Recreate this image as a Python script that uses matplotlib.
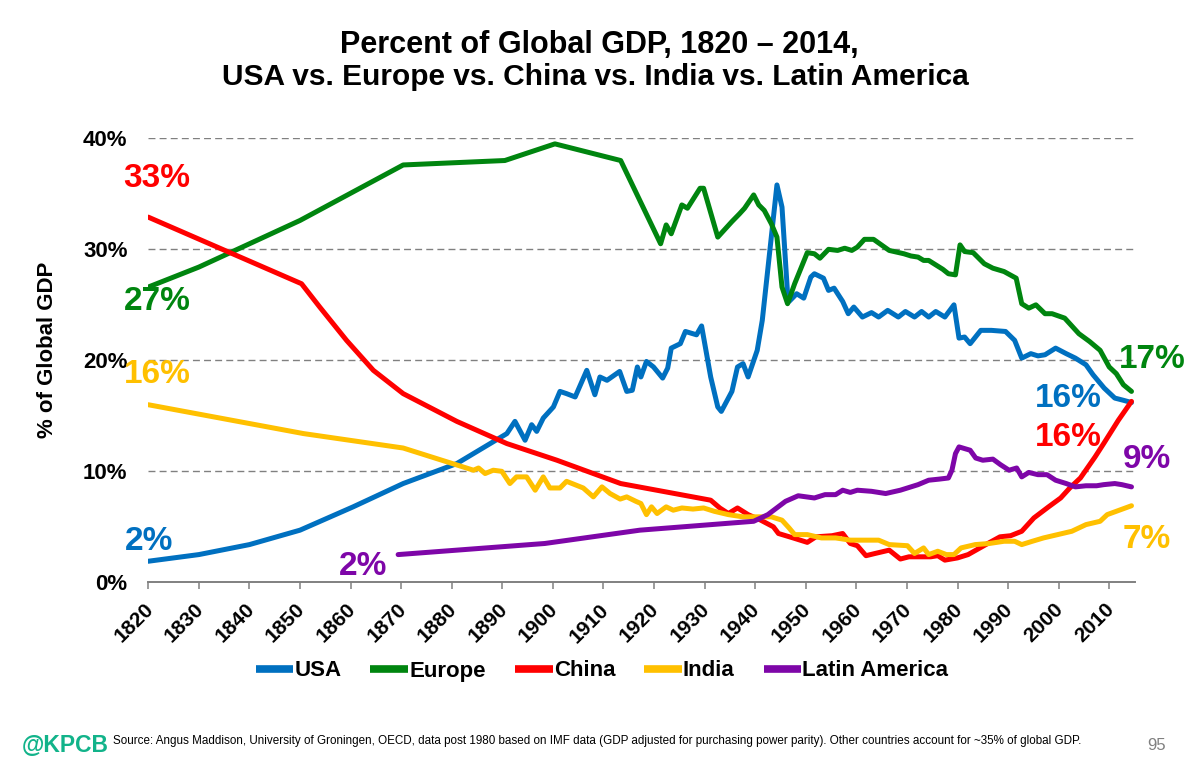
import matplotlib
matplotlib.use("Agg")
import matplotlib.pyplot as plt
import matplotlib.transforms as mtransforms

plt.rcParams["font.family"] = ["Liberation Sans", "DejaVu Sans"]

# values (% of global GDP)
usa_year = [1820, 1830, 1840, 1850, 1860.5, 1870.4, 1881, 1890.9,
            1892.5, 1894.5, 1895.8, 1896.8, 1898.1, 1900.1,
            1901.4, 1902.7, 1904.4, 1906.7, 1908.3, 1909.3,
            1910.7, 1913.2, 1914.6, 1915.7, 1916.7, 1917.4,
            1918.5, 1919.9, 1921.7, 1922.7, 1923.4, 1925.2,
            1926.2, 1928.4, 1929.4, 1931.2, 1932.6, 1933.3,
            1935.4, 1936.5, 1937.6, 1938.6, 1940.4, 1941.4,
            1942.9, 1944.3, 1945.3, 1946.4, 1946.7, 1948.2,
            1949.6, 1951.0, 1951.7, 1953.5, 1954.5, 1955.6,
            1957.3, 1958.4, 1959.5, 1961.2, 1963.0, 1964.4,
            1966.2, 1968.3, 1969.7, 1971.5, 1972.9, 1974.3,
            1975.7, 1977.5, 1979.3, 1980.3, 1981.4, 1982.5,
            1984.6, 1986.7, 1989.5, 1991.3, 1992.7, 1994.5,
            1995.9, 1997.3, 1999.4, 2001.5, 2003.3, 2005.4,
            2006.8, 2009.0, 2011.1, 2012.8, 2014.4]
usa_val = [1.9, 2.5, 3.4, 4.7, 6.8, 8.9, 10.7, 13.4,
           14.5, 12.8, 14.2, 13.6, 14.8, 15.8,
           17.2, 17.0, 16.7, 19.1, 16.9, 18.5,
           18.2, 19.0, 17.2, 17.3, 19.4, 18.5,
           19.9, 19.4, 18.4, 19.3, 21.1, 21.5,
           22.6, 22.3, 23.1, 18.5, 15.8, 15.4,
           17.2, 19.4, 19.7, 18.5, 20.9, 23.6,
           29.9, 35.8, 33.8, 26.0, 25.3, 26.0,
           25.6, 27.5, 27.8, 27.4, 26.3, 26.5,
           25.3, 24.2, 24.8, 23.9, 24.3, 23.9,
           24.5, 23.9, 24.4, 23.9, 24.4, 23.9,
           24.4, 23.9, 25.0, 22.0, 22.1, 21.5,
           22.7, 22.7, 22.6, 21.8, 20.2, 20.6,
           20.4, 20.5, 21.1, 20.6, 20.2, 19.6,
           18.7, 17.5, 16.6, 16.4, 16.2]

eur_year = [1820, 1830, 1850, 1870.4, 1890.5, 1900.4, 1913.4,
            1921.3, 1922.4, 1923.4, 1925.5, 1926.6, 1929.1,
            1929.8, 1932.6, 1935.4, 1936.9, 1937.9, 1939.7,
            1940.7, 1941.8, 1943.2, 1944.3, 1945.3, 1946.4,
            1947.8, 1950.3, 1951.7, 1952.8, 1954.5, 1956.3,
            1957.7, 1959.1, 1960.2, 1961.6, 1963.4, 1966.5,
            1969.4, 1970.8, 1972.2, 1973.3, 1974.3, 1975.7,
            1977.1, 1978.2, 1979.6, 1980.5, 1981.4, 1983.1,
            1985.3, 1987.0, 1989.2, 1991.6, 1992.7, 1994.1,
            1995.5, 1997.3, 1998.7, 2001.2, 2004.0, 2006.1,
            2008.2, 2010.0, 2011.4, 2012.8, 2014.4]
eur_val = [26.6, 28.4, 32.6, 37.6, 38.0, 39.5, 38.0,
           30.5, 32.2, 31.4, 34.0, 33.7, 35.5,
           35.5, 31.1, 32.5, 33.2, 33.7, 34.9,
           34.0, 33.5, 32.3, 31.1, 26.6, 25.1,
           26.9, 29.7, 29.6, 29.2, 30.0, 29.9,
           30.1, 29.9, 30.2, 30.9, 30.9, 29.9,
           29.6, 29.4, 29.3, 29.0, 29.0, 28.6,
           28.2, 27.8, 27.7, 30.4, 29.8, 29.7,
           28.7, 28.3, 28.0, 27.4, 25.1, 24.7,
           25.0, 24.2, 24.2, 23.8, 22.4, 21.7,
           20.9, 19.4, 18.8, 17.8, 17.2]

chn_year = [1820, 1850.3, 1853.9, 1859.2, 1864.5, 1870.4,
            1881, 1890.9, 1900.8, 1913.4, 1931.2, 1933.0,
            1934.7, 1936.5, 1938.6, 1941.1, 1943.6, 1944.6,
            1947.5, 1950.3, 1952.0, 1955.2, 1957.3, 1958.8,
            1960.2, 1961.9, 1963.7, 1966.5, 1968.7, 1970.4,
            1974.7, 1976.1, 1977.5, 1980.0, 1982.1, 1985.6,
            1988.4, 1990.5, 1992.7, 1995.1, 1998.0, 2000.4,
            2002.2, 2004.3, 2007.2, 2008.9, 2011.8, 2014.4]
chn_val = [32.9, 26.9, 24.8, 21.8, 19.1, 17.0,
           14.5, 12.5, 11.0, 8.9, 7.4, 6.7,
           6.2, 6.7, 6.1, 5.6, 5.0, 4.4,
           4.0, 3.6, 4.1, 4.2, 4.4, 3.5,
           3.3, 2.4, 2.6, 2.9, 2.1, 2.3,
           2.3, 2.4, 2.0, 2.2, 2.5, 3.4,
           4.1, 4.2, 4.6, 5.8, 6.8, 7.6,
           8.5, 9.4, 11.3, 12.5, 14.6, 16.3]

ind_year = [1820, 1850.7, 1870.4,
            1884.3, 1885.3, 1886.6, 1888.2, 1889.9,
            1891.5, 1892.8, 1894.8, 1896.5, 1898.1, 1899.4,
            1901.4, 1902.7, 1906.0, 1908.0, 1909.7, 1911.3,
            1913.3, 1914.6, 1916.4, 1917.4, 1918.5, 1919.5, 1920.6,
            1922.4, 1923.8, 1925.5, 1927.7, 1929.8,
            1931.9, 1934.7, 1937.6, 1940.4, 1943.2, 1945.3,
            1946.7, 1947.8, 1950.3, 1953.1, 1955.9, 1958.8,
            1961.6, 1964.4, 1966.5, 1970.1, 1971.5, 1973.3, 1974.3,
            1976.1, 1977.8, 1979.3, 1980.7, 1983.5, 1986.3,
            1989.2, 1991.3, 1992.7, 1994.8, 1997.0, 1999.8,
            2002.6, 2005.4, 2008.2, 2009.6, 2011.4, 2014.4]
ind_val = [16.0, 13.4, 12.1,
           10.1, 10.3, 9.8, 10.1, 10.0,
           8.9, 9.5, 9.5, 8.3, 9.5, 8.5,
           8.5, 9.1, 8.5, 7.7, 8.6, 8.0,
           7.5, 7.7, 7.3, 7.1, 6.1, 6.8, 6.2,
           6.8, 6.5, 6.7, 6.6, 6.7,
           6.4, 6.1, 5.9, 5.9, 5.9, 5.6,
           4.9, 4.3, 4.3, 4.0, 4.0, 3.8,
           3.8, 3.8, 3.4, 3.3, 2.6, 3.1, 2.5,
           2.8, 2.5, 2.5, 3.1, 3.4, 3.5,
           3.7, 3.7, 3.4, 3.7, 4.0, 4.3,
           4.6, 5.2, 5.5, 6.1, 6.4, 6.9]

lat_year = [1869.4, 1898.4, 1917.2, 1939.7, 1942.5, 1946.0,
            1948.5, 1951.7, 1953.8, 1955.9, 1957.3, 1958.8,
            1960.2, 1963.0, 1965.8, 1968.7, 1972.2, 1974.3,
            1976.4, 1978.2, 1978.9, 1979.6, 1980.3, 1982.5,
            1983.6, 1985.0, 1987.0, 1988.5, 1990.2, 1991.7,
            1992.7, 1994.1, 1995.9, 1997.7, 1999.4, 2001.5,
            2003.3, 2005.4, 2007.5, 2008.9, 2011.1, 2012.5, 2014.4]
lat_val = [2.5, 3.5, 4.7, 5.5, 6.1, 7.3,
           7.8, 7.6, 7.9, 7.9, 8.3, 8.1,
           8.3, 8.2, 8.0, 8.3, 8.8, 9.2,
           9.3, 9.4, 10.1, 11.6, 12.2, 11.9,
           11.2, 11.0, 11.1, 10.6, 10.1, 10.3,
           9.5, 9.9, 9.7, 9.7, 9.2, 8.9,
           8.6, 8.7, 8.7, 8.8, 8.9, 8.8, 8.6]

BLUE, GREEN, RED, YELLOW, PURPLE = "#0070C0", "#00850F", "#FF0000", "#FFC000", "#7E06A8"

series = [
    ("USA", usa_year, usa_val, BLUE),
    ("Europe", eur_year, eur_val, GREEN),
    ("China", chn_year, chn_val, RED),
    ("India", ind_year, ind_val, YELLOW),
    ("Latin America", lat_year, lat_val, PURPLE),
]

# end labels: (text, x, y, colour)
labels = [
    ("33%", 1821.7, 35.6, RED),
    ("27%", 1821.7, 24.5, GREEN),
    ("16%", 1821.7, 17.95, YELLOW),
    ("2%", 1820.2, 2.9, BLUE),
    ("2%", 1862.4, 0.66, PURPLE),
    ("17%", 2018.5, 19.3, GREEN),
    ("16%", 2002.0, 15.8, BLUE),
    ("16%", 2002.0, 12.3, RED),
    ("9%", 2017.5, 10.3, PURPLE),
    ("7%", 2017.5, 3.1, YELLOW),
]

GRAY = "#808080"

fig = plt.figure(figsize=(11.91, 7.71), dpi=100)
ax = fig.add_axes([0.1245, 0.2447, 0.8285, 0.5759])

handles = []
for i, (name, xs, ys, col) in enumerate(series):
    ln, = ax.plot(xs, ys, color=col, lw=3.6, solid_joinstyle="round",
                  solid_capstyle="round", label=name, zorder=3 + i)
    handles.append(ln)

ax.set_xlim(1820, 2015.1)
ax.set_ylim(0, 40)
ax.set_yticks([0, 10, 20, 30, 40])
ax.set_yticklabels(["0%", "10%", "20%", "30%", "40%"])
ax.set_xticks(range(1820, 2011, 10))
for y in [10, 20, 30, 40]:
    ax.axhline(y, color=GRAY, lw=1.0, ls=(0, (5, 3)), zorder=1)

for s in ["top", "right", "left"]:
    ax.spines[s].set_visible(False)
ax.spines["bottom"].set_color(GRAY)
ax.spines["bottom"].set_linewidth(1.4)
ax.tick_params(axis="y", length=0, pad=15, labelsize=16)
ax.tick_params(axis="x", direction="out", length=5, width=1.1, color=GRAY,
               pad=12.5, labelsize=15)
for lbl in ax.get_yticklabels():
    lbl.set_fontweight("bold")
shift = mtransforms.ScaledTranslation(2 / 100, 0, fig.dpi_scale_trans)
for lbl in ax.get_xticklabels():
    lbl.set_fontweight("bold")
    lbl.set_rotation(45)
    lbl.set_ha("right")
    lbl.set_va("center")
    lbl.set_rotation_mode("anchor")
    lbl.set_transform(lbl.get_transform() + shift)

ax.set_ylabel("% of Global GDP", fontsize=16, fontweight="bold")
ax.yaxis.set_label_coords(-0.091, 0.523)

for txt, x, y, col in labels:
    ax.text(x, y, txt, color=col, fontsize=24, fontweight="bold",
            ha="center", va="baseline", clip_on=False, zorder=10)

fig.text(0.503, 1 - 53 / 771, "Percent of Global GDP, 1820 \u2013 2014,",
         ha="center", va="baseline", fontsize=22, fontweight="bold")
fig.text(0.4996, 1 - 85 / 771,
         "USA vs. Europe vs. China vs. India vs. Latin America",
         ha="center", va="baseline", fontsize=21.5, fontweight="bold")

leg = fig.legend(handles=handles, loc="center", ncol=5, frameon=False,
                 bbox_to_anchor=(602 / 1191, 1 - 671 / 771),
                 prop={"size": 16, "weight": "bold"}, handlelength=1.7,
                 handletextpad=0.05, columnspacing=1.3)
for h in leg.legend_handles:
    h.set_linewidth(5.5)
    h.set_solid_capstyle("butt")

fig.text(22 / 1191, 1 - 745 / 771, "@KPCB", color="#12B38A", fontsize=16.5,
         fontweight="bold", ha="left", va="center")
fig.text(113 / 1191, 1 - 741 / 771,
         "Source: Angus Maddison, University of Groningen, OECD, data post 1980 "
         "based on IMF data (GDP adjusted for purchasing power parity). "
         "Other countries account for ~35% of global GDP.",
         fontsize=8.4, ha="left", va="center")
fig.text(1166 / 1191, 1 - 745 / 771, "95", color=GRAY, fontsize=12,
         ha="right", va="center")

fig.savefig("out.png", dpi=100)
